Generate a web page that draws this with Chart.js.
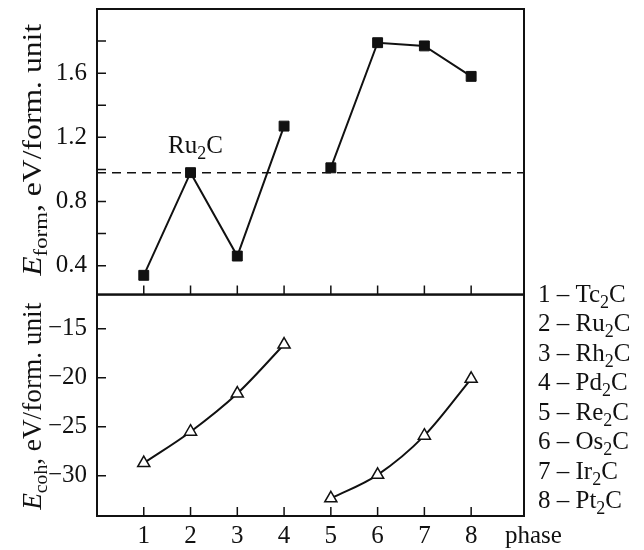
<!DOCTYPE html>
<html>
<head>
<meta charset="utf-8">
<script src="https://cdn.jsdelivr.net/npm/chart.js@4"></script>
<style>
  html, body { margin: 0; padding: 0; background: #fff; }
  #chart { display: block; }
</style>
</head>
<body>
<canvas id="chart" width="644" height="550"></canvas>
<script>
// phases and their carbides (M2C)
const phases = [1, 2, 3, 4, 5, 6, 7, 8];
const metals = ['Tc', 'Ru', 'Rh', 'Pd', 'Re', 'Os', 'Ir', 'Pt'];

// formation energy, eV/form. unit
const eForm = [0.34, 0.98, 0.46, 1.27, 1.01, 1.79, 1.77, 1.58];
// cohesive energy, eV/form. unit
const eCoh = [-28.7, -25.5, -21.6, -16.6, -32.3, -29.9, -25.9, -20.1];

// dashed reference level (Ru2C)
const refLevel = 0.98;

// tick values
const formTicks = [0.4, 0.8, 1.2, 1.6];
const formMinor = [0.6, 1.0, 1.4, 1.8];
const cohTicks = [-30, -25, -20, -15];

const xMin = 0, xMax = 9.13;
const FONT = '"Liberation Serif", "Times New Roman", serif';
const INK = '#111';

// the two series are broken between 4 and 5 (4d and 5d metals)
const groups = [[0, 4], [4, 8]];
const pts = (vals, g) => phases.slice(g[0], g[1]).map((p, i) => ({ x: p, y: vals[g[0] + i] }));

// --- rich text helpers (italic E, subscripts) ---
function partFont(p, size) {
    const s = p.sub ? size * 0.72 : size;
    return (p.it ? 'italic ' : '') + s + 'px ' + FONT;
}
function richWidth(ctx, parts, size) {
    let w = 0;
    parts.forEach(p => { ctx.font = partFont(p, size); w += ctx.measureText(p.t).width; });
    return w;
}
function drawRich(ctx, parts, x, y, size, align) {
    const w = richWidth(ctx, parts, size);
    let cx = align === 'center' ? x - w / 2 : (align === 'right' ? x - w : x);
    ctx.textAlign = 'left';
    ctx.textBaseline = 'alphabetic';
    parts.forEach(p => {
        ctx.font = partFont(p, size);
        ctx.fillText(p.t, cx, y + (p.sub ? size * 0.24 : 0));
        cx += ctx.measureText(p.t).width;
    });
}
// rotated title, stretched along its direction to the wanted length
function drawTitle(ctx, parts, x, yCenter, length) {
    const size = 27;
    ctx.save();
    ctx.translate(x, yCenter);
    ctx.rotate(-Math.PI / 2);
    const w = richWidth(ctx, parts, size);
    ctx.scale(length / w, 1);
    drawRich(ctx, parts, 0, 0, size, 'center');
    ctx.restore();
}
const formula = m => [{ t: m }, { t: '2', sub: true }, { t: 'C' }];

// frames, inward ticks and all the extra labels
const decor = {
    id: 'decor',
    afterDatasetsDraw(chart) {
        const ctx = chart.ctx;
        const { left, right } = chart.chartArea;
        const x = chart.scales.x, yF = chart.scales.yForm, yC = chart.scales.yCoh;
        ctx.save();
        ctx.strokeStyle = INK;
        ctx.fillStyle = INK;

        // panel frames
        ctx.lineWidth = 2;
        [yF, yC].forEach(s => ctx.strokeRect(left, s.top, right - left, s.bottom - s.top));

        // inward tick marks
        ctx.lineWidth = 1.5;
        ctx.beginPath();
        x.ticks.forEach(t => {
            const px = x.getPixelForValue(t.value);
            [yF, yC].forEach(s => { ctx.moveTo(px, s.bottom); ctx.lineTo(px, s.bottom - 9); });
        });
        [yF, yC].forEach(s => s.ticks.forEach(t => {
            const py = s.getPixelForValue(t.value);
            ctx.moveTo(left, py); ctx.lineTo(left + 9, py);
        }));
        ctx.stroke();

        // axis titles
        drawTitle(ctx, [{ t: 'E', it: true }, { t: 'form', sub: true }, { t: ', eV/form. unit' }],
            41, (yF.top + yF.bottom) / 2 - 2, 252);
        drawTitle(ctx, [{ t: 'E', it: true }, { t: 'coh', sub: true }, { t: ', eV/form. unit' }],
            41, (yC.top + yC.bottom) / 2 + 1, 207);

        // x title
        drawRich(ctx, [{ t: 'phase' }], right - 19, chart.height - 7, 25, 'left');

        // annotation over the Ru2C point
        drawRich(ctx, formula(metals[1]), x.getPixelForValue(phases[1]) + 5,
            yF.getPixelForValue(refLevel) - 20, 25, 'center');

        // list of phases on the right
        metals.forEach((m, i) => {
            drawRich(ctx, [{ t: phases[i] + ' \u2013 ' + m }, { t: '2', sub: true }, { t: 'C' }],
                right + 14, yF.bottom + 7 + i * 29.5, 25, 'left');
        });
        ctx.restore();
    }
};

const tickFont = { family: FONT, size: 25 };
const noGrid = { display: false, drawTicks: false };

function fitY(s) {
    s.width = 97;
    s.paddingTop = 0;
    s.paddingBottom = 0;
}

new Chart(document.getElementById('chart'), {
    type: 'line',
    data: {
        datasets: [
            ...groups.map(g => ({
                data: pts(eForm, g),
                yAxisID: 'yForm',
                borderColor: INK,
                borderWidth: 2,
                tension: 0,
                pointStyle: 'rect',
                pointRadius: 7,
                pointBackgroundColor: INK,
                pointBorderColor: INK,
                pointBorderWidth: 1
            })),
            {
                data: [{ x: xMin, y: refLevel }, { x: xMax, y: refLevel }],
                yAxisID: 'yForm',
                borderColor: INK,
                borderWidth: 1.5,
                borderDash: [9, 6],
                pointRadius: 0
            },
            ...groups.map(g => ({
                data: pts(eCoh, g),
                yAxisID: 'yCoh',
                borderColor: INK,
                borderWidth: 2,
                cubicInterpolationMode: 'monotone',
                pointStyle: 'triangle',
                pointRadius: 7,
                pointBackgroundColor: '#fff',
                pointBorderColor: INK,
                pointBorderWidth: 1.5
            }))
        ]
    },
    options: {
        responsive: false,
        animation: false,
        devicePixelRatio: 1,
        layout: { padding: { left: 0, right: 120, top: 9, bottom: 0 } },
        plugins: { legend: { display: false }, tooltip: { enabled: false } },
        scales: {
            x: {
                type: 'linear',
                position: 'bottom',
                min: xMin,
                max: xMax,
                grid: noGrid,
                border: { display: false },
                afterBuildTicks: s => { s.ticks = phases.map(v => ({ value: v })); },
                afterFit: s => { s.height = 34; s.paddingLeft = 0; s.paddingRight = 0; },
                ticks: { font: tickFont, color: INK, padding: 5, autoSkip: false, maxRotation: 0 }
            },
            yCoh: {
                type: 'linear',
                position: 'left',
                stack: 'panels',
                stackWeight: 221,
                min: -34.1,
                max: -11.5,
                grid: noGrid,
                border: { display: false },
                afterBuildTicks: s => { s.ticks = cohTicks.map(v => ({ value: v })); },
                afterFit: fitY,
                ticks: {
                    font: tickFont, color: INK, padding: 10, autoSkip: false,
                    callback: v => '\u2212' + Math.abs(v)
                }
            },
            yForm: {
                type: 'linear',
                position: 'left',
                stack: 'panels',
                stackWeight: 285,
                min: 0.22,
                max: 2.0,
                grid: noGrid,
                border: { display: false },
                afterBuildTicks: s => {
                    s.ticks = formTicks.concat(formMinor).sort((a, b) => a - b).map(v => ({ value: v }));
                },
                afterFit: fitY,
                ticks: {
                    font: tickFont, color: INK, padding: 10, autoSkip: false,
                    callback: v => formTicks.some(t => Math.abs(t - v) < 1e-6) ? v.toFixed(1) : ''
                }
            }
        }
    },
    plugins: [decor]
});
</script>
</body>
</html>
